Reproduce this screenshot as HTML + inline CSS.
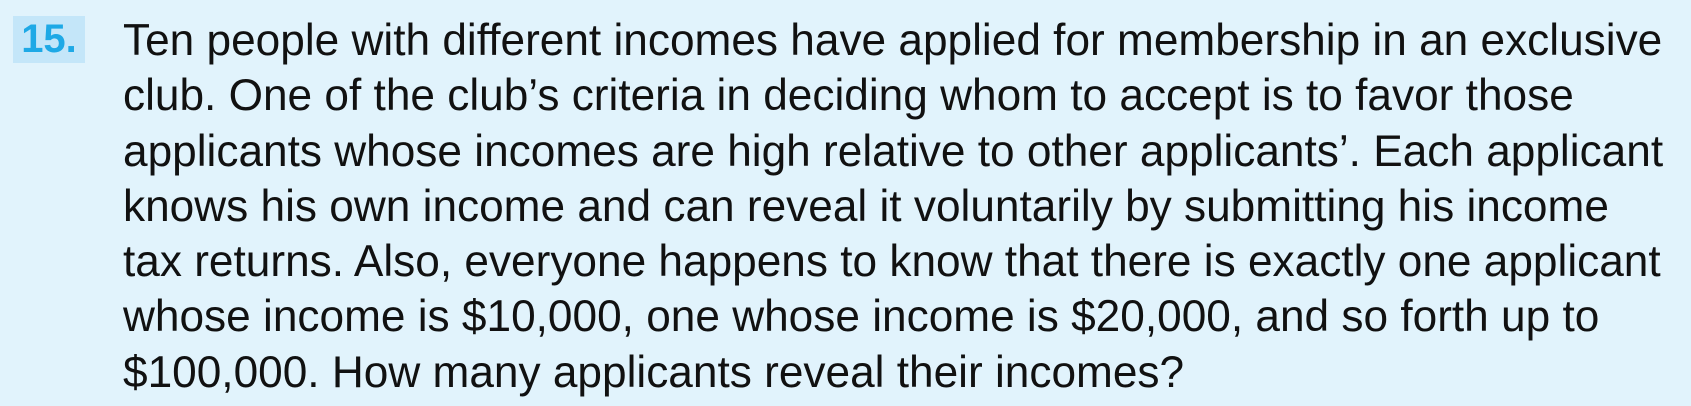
<!DOCTYPE html>
<html><head><meta charset="utf-8"><style>
html,body{margin:0;padding:0}
body{width:1691px;height:406px;background:#e1f3fc;position:relative;overflow:hidden;font-family:"Liberation Sans",Arial,sans-serif}
#num{position:absolute;left:13px;top:16px;width:72px;height:47px;background:#c4e6f9;color:#1ea9e6;font-weight:bold;font-size:40px;line-height:47px;text-align:center}
#txt{position:absolute;left:123px;top:13px;font-size:44.2px;line-height:55.3px;color:#111;white-space:nowrap}
#txt div{height:55.3px}
</style></head><body>
<div id="num">15.</div>
<div id="txt">
<div>Ten people with different incomes have applied for membership in an exclusive</div>
<div>club. One of the club’s criteria in deciding whom to accept is to favor those</div>
<div>applicants whose incomes are high relative to other applicants’. Each applicant</div>
<div>knows his own income and can reveal it voluntarily by submitting his income</div>
<div>tax returns. Also, everyone happens to know that there is exactly one applicant</div>
<div>whose income is $10,000, one whose income is $20,000, and so forth up to</div>
<div>$100,000. How many applicants reveal their incomes?</div>
</div>
</body></html>
